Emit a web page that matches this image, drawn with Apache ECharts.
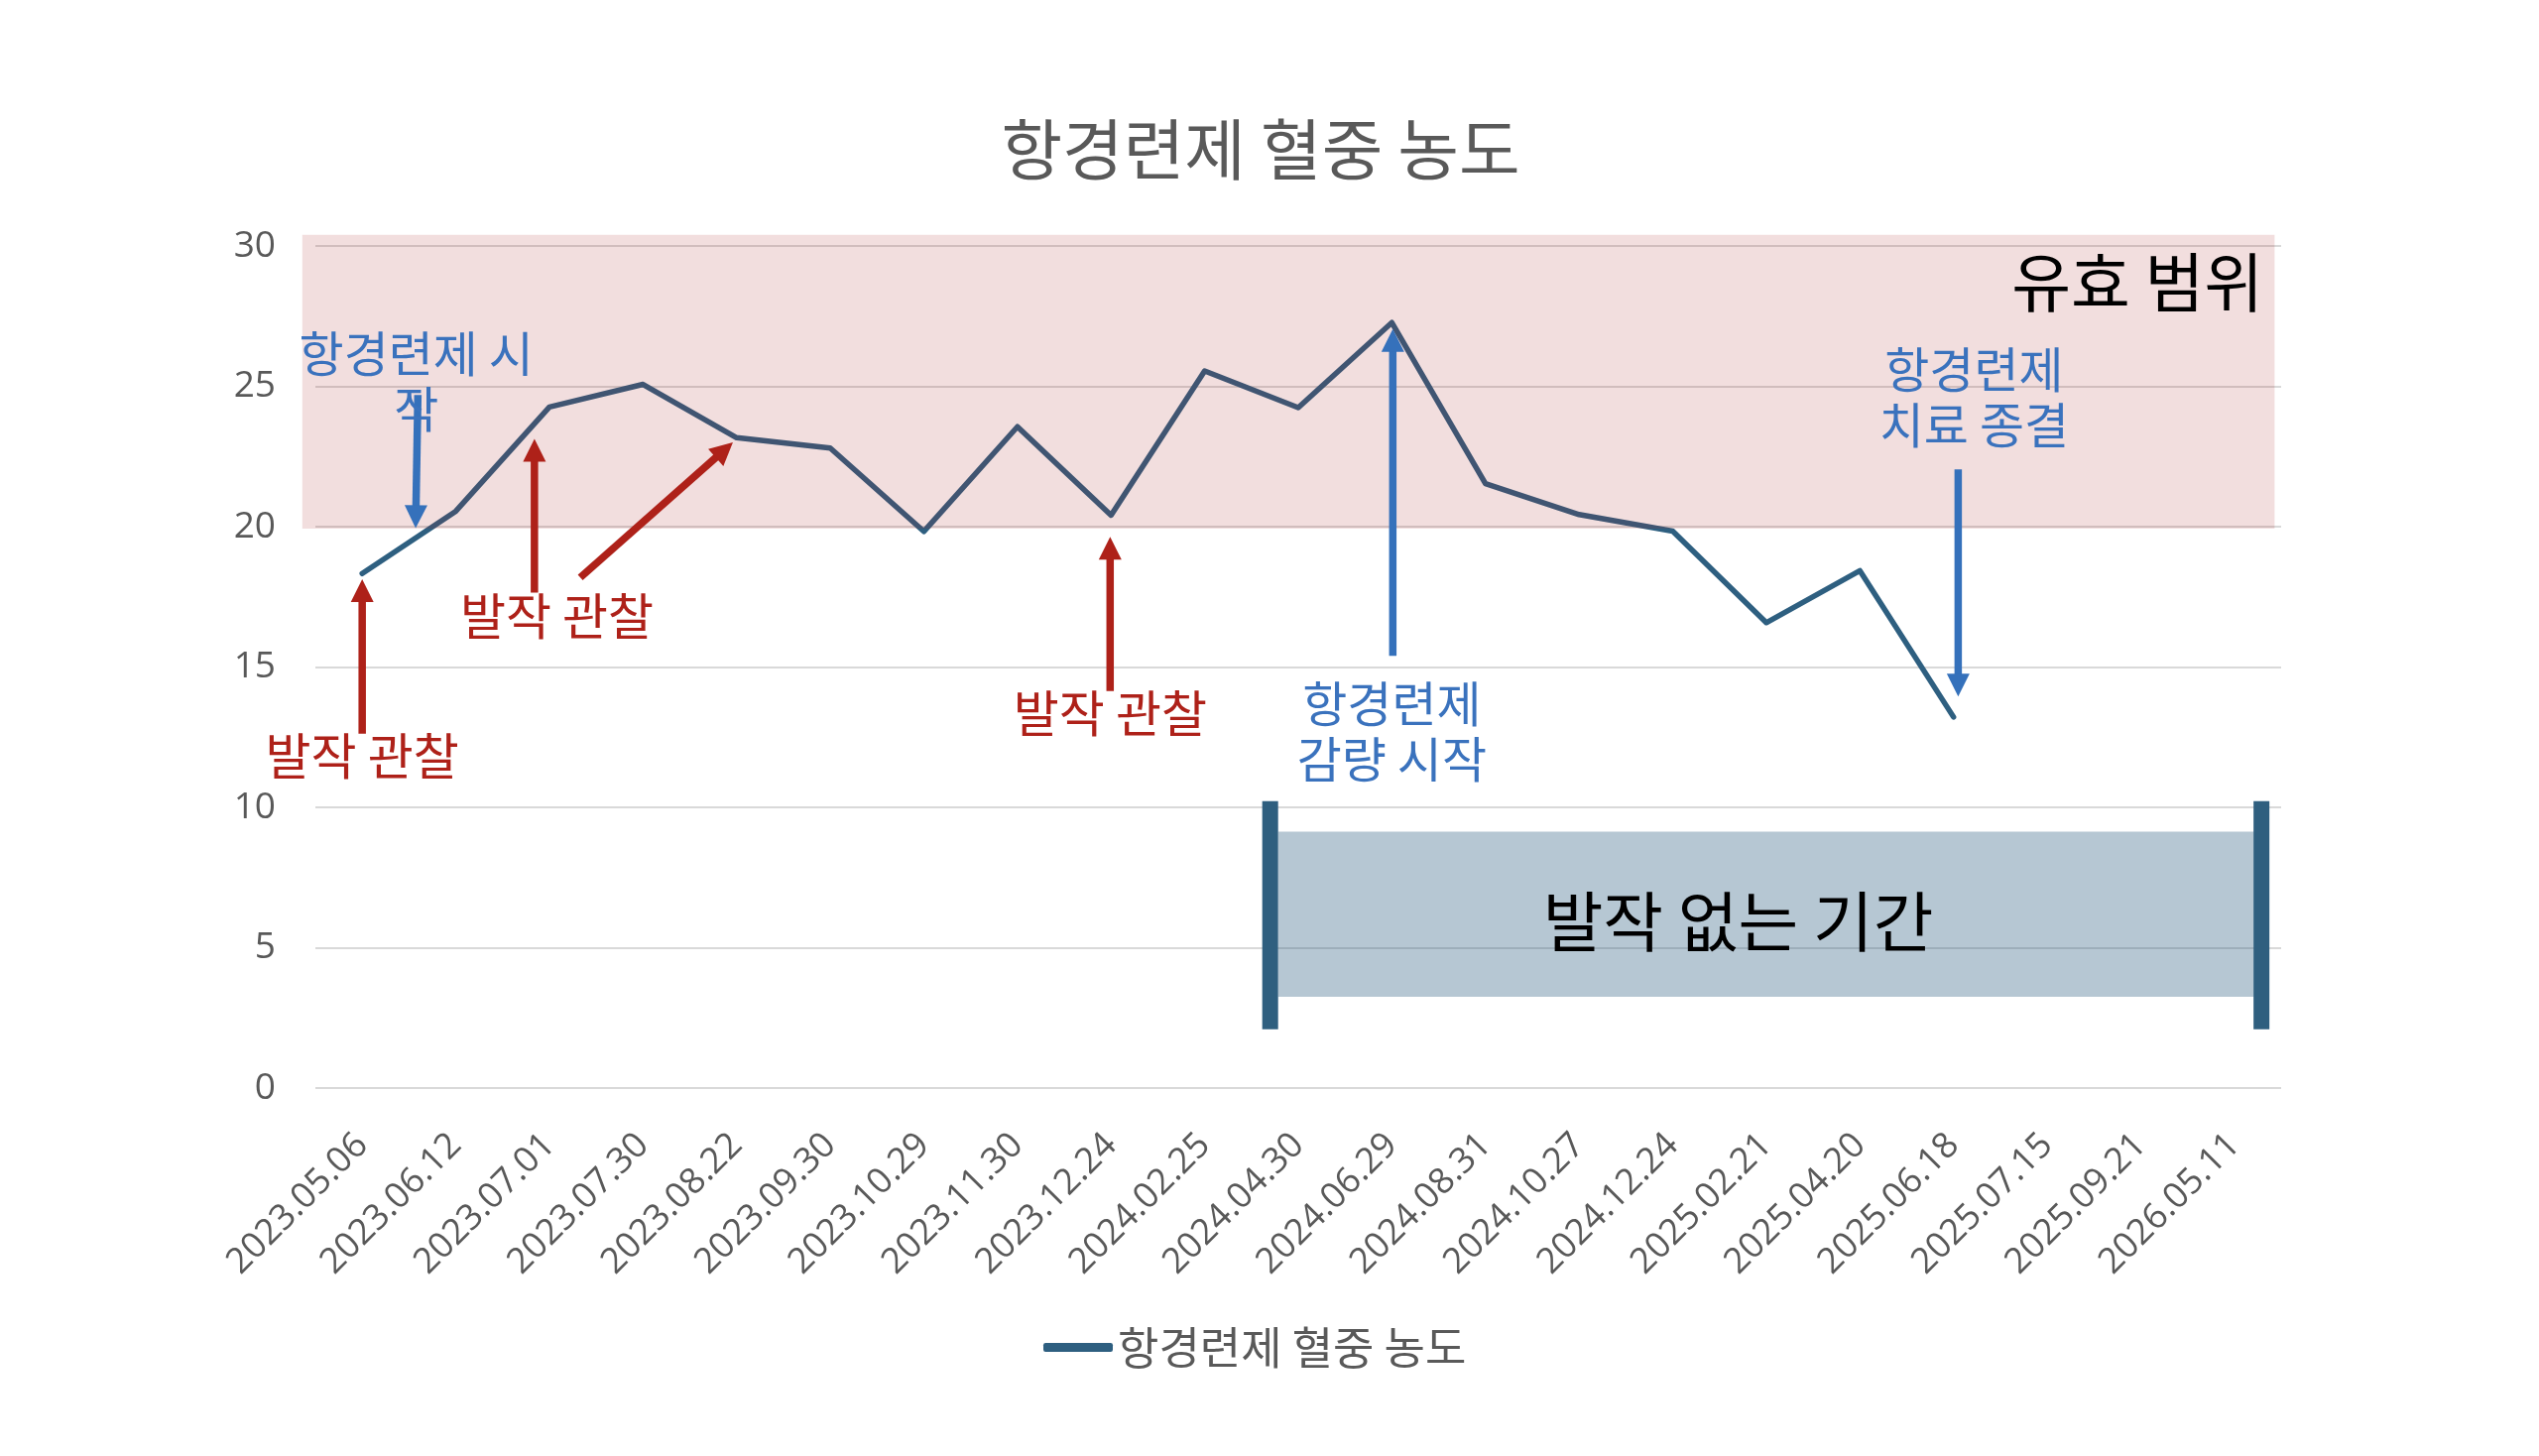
<!DOCTYPE html>
<html><head><meta charset="utf-8">
<script src="https://cdn.jsdelivr.net/npm/echarts@6/dist/echarts.min.js"></script>
<style>html,body{margin:0;padding:0;background:#fff}#c{width:2560px;height:1468px}</style>
</head><body><div id="c"></div>
<script>
// ---- data ----
const categories = ['2023.05.06','2023.06.12','2023.07.01','2023.07.30','2023.08.22','2023.09.30','2023.10.29','2023.11.30','2023.12.24','2024.02.25','2024.04.30','2024.06.29','2024.08.31','2024.10.27','2024.12.24','2025.02.21','2025.04.20','2025.06.18','2025.07.15','2025.09.21','2026.05.11'];
const concentration = [18.33, 20.55, 24.26, 25.07, 23.17, 22.8, 19.83, 23.56, 20.41, 25.55, 24.24, 27.27, 21.53, 20.43, 19.84, 16.58, 18.43, 13.22, null, null, null];
const seriesName = '항경련제 혈중 농도';
const yMin = 0, yMax = 30, yInterval = 5;
// effective range band: [xStart, yLow, xEnd, yHigh] in category-index / value units
const effectiveRange = [[-0.64, 19.93, 20.43, 30.40]];
// seizure-free period: shaded box and end bars
const seizureFreeBox = [[9.785, 3.25, 20.21, 9.13]];
const seizureFreeBars = [[9.70, 2.09, 10.22], [20.29, 2.09, 10.22]];
// arrows: [x1, y1, x2 (head), y2 (head), kind]
const arrows = [
  [0.00, 12.62, 0.00, 18.13, 'red'],
  [1.84, 17.65, 1.84, 23.13, 'red'],
  [2.33, 18.19, 3.96, 23.00, 'red'],
  [7.99, 14.14, 7.99, 19.64, 'red'],
  [0.595, 24.69, 0.571, 19.95, 'blue'],
  [11.01, 15.40, 11.01, 27.04, 'blue'],
  [17.05, 22.04, 17.05, 13.95, 'blue']
];
// notes: [text, x, y, kind]
const notes = [
  ['발작 관찰', 0.00, 11.85, 'red'],
  ['발작 관찰', 2.08, 16.82, 'red'],
  ['발작 관찰', 7.99, 13.37, 'red'],
  ['항경련제 시\n작', 0.578, 25.19, 'blue'],
  ['항경련제\n감량 시작', 11.00, 12.72, 'blue'],
  ['항경련제\n치료 종결', 17.22, 24.61, 'blue'],
  ['유효 범위', 20.31, 28.73, 'bigRight'],
  ['발작 없는 기간', 14.70, 5.94, 'bigCenter']
];

// ---- styles ----
const KR = '"Noto Sans CJK KR", "Noto Sans", sans-serif';
const NUM = '"Open Sans", "Noto Sans CJK KR", sans-serif';
const lineColor = '#2E5F80';
const arrowColor = { red: '#AE2119', blue: '#3571BB' };
const noteStyle = {
  red:       { fill: '#AE2119', fontSize: 50, align: 'center', lineHeight: 56 },
  blue:      { fill: '#3A72BD', fontSize: 49, align: 'center', lineHeight: 56 },
  bigRight:  { fill: '#000000', fontSize: 65, align: 'right', lineHeight: 70 },
  bigCenter: { fill: '#000000', fontSize: 66, align: 'center', lineHeight: 70 }
};

const chart = echarts.init(document.getElementById('c'), null, { renderer: 'canvas' });

function rectFrom(api, x0, y0, x1, y1) {
  const a = api.coord([x0, y1]);
  const b = api.coord([x1, y0]);
  return { x: a[0], y: a[1], width: b[0] - a[0], height: b[1] - a[1] };
}

chart.setOption({
  animation: false,
  backgroundColor: '#ffffff',
  title: {
    text: '항경련제 혈중 농도',
    left: 1266, top: 112, textAlign: 'center',
    textStyle: { fontSize: 67, color: '#595959', fontWeight: 'normal', fontFamily: KR }
  },
  legend: {
    data: [seriesName],
    left: 1047, top: 1331,
    icon: 'roundRect', itemWidth: 70, itemHeight: 9,
    textStyle: { fontSize: 45, color: '#595959', fontFamily: KR }
  },
  grid: { left: 318, right: 260, top: 248, bottom: 371, containLabel: false },
  xAxis: [
    {
      type: 'category', data: categories, boundaryGap: true,
      axisLine: { show: false }, axisTick: { show: false },
      axisLabel: { rotate: 45, interval: 0, fontSize: 36, color: '#595959', margin: 52, fontFamily: NUM }
    },
    { type: 'value', min: -0.5, max: categories.length - 0.5, show: false }
  ],
  yAxis: {
    type: 'value', min: yMin, max: yMax, interval: yInterval,
    axisLine: { show: false }, axisTick: { show: false },
    axisLabel: { fontSize: 37, color: '#595959', margin: 40, fontFamily: NUM },
    splitLine: { lineStyle: { color: '#D9D9D9', width: 2 } }
  },
  series: [
    {
      name: seriesName, type: 'line', data: concentration,
      xAxisIndex: 0, yAxisIndex: 0, symbol: 'none', z: 2,
      itemStyle: { color: lineColor },
      lineStyle: { color: lineColor, width: 5.5, cap: 'round', join: 'round' }
    },
    {
      type: 'custom', xAxisIndex: 1, yAxisIndex: 0, z: 3, clip: false, silent: true,
      data: effectiveRange,
      renderItem: function (params, api) {
        return { type: 'rect', shape: rectFrom(api, api.value(0), api.value(1), api.value(2), api.value(3)),
          style: { fill: 'rgba(170,35,35,0.15)' } };
      }
    },
    {
      type: 'custom', xAxisIndex: 1, yAxisIndex: 0, z: 3, clip: false, silent: true,
      data: seizureFreeBox,
      renderItem: function (params, api) {
        return { type: 'rect', shape: rectFrom(api, api.value(0), api.value(1), api.value(2), api.value(3)),
          style: { fill: 'rgba(46,95,128,0.35)' } };
      }
    },
    {
      type: 'custom', xAxisIndex: 1, yAxisIndex: 0, z: 4, clip: false, silent: true,
      data: seizureFreeBars,
      renderItem: function (params, api) {
        const top = api.coord([api.value(0), api.value(2)]);
        const bot = api.coord([api.value(0), api.value(1)]);
        const w = 16;
        return { type: 'rect', shape: { x: top[0] - w / 2, y: top[1], width: w, height: bot[1] - top[1] },
          style: { fill: '#2F5F7F' } };
      }
    },
    {
      type: 'custom', xAxisIndex: 1, yAxisIndex: 0, z: 5, clip: false, silent: true,
      data: arrows.map(a => [a[0], a[1], a[2], a[3]]),
      renderItem: function (params, api) {
        const kind = arrows[params.dataIndex][4];
        const col = arrowColor[kind];
        const p1 = api.coord([api.value(0), api.value(1)]);
        const p2 = api.coord([api.value(2), api.value(3)]);
        const dx = p2[0] - p1[0], dy = p2[1] - p1[1];
        const len = Math.sqrt(dx * dx + dy * dy);
        const ux = dx / len, uy = dy / len;
        const nx = -uy, ny = ux;
        const L = 23, hw = 11.5;
        const bx = p2[0] - ux * L, by = p2[1] - uy * L;
        return {
          type: 'group',
          children: [
            { type: 'line', shape: { x1: p1[0], y1: p1[1], x2: bx + ux * 3, y2: by + uy * 3 },
              style: { stroke: col, lineWidth: 7.5 } },
            { type: 'polygon', shape: { points: [[p2[0], p2[1]], [bx + nx * hw, by + ny * hw], [bx - nx * hw, by - ny * hw]] },
              style: { fill: col } }
          ]
        };
      }
    },
    {
      type: 'custom', xAxisIndex: 1, yAxisIndex: 0, z: 6, clip: false, silent: true,
      data: notes.map(n => [n[1], n[2]]),
      renderItem: function (params, api) {
        const n = notes[params.dataIndex];
        const st = noteStyle[n[3]];
        const p = api.coord([api.value(0), api.value(1)]);
        return {
          type: 'text', x: p[0], y: p[1],
          style: { text: n[0], fill: st.fill, fontSize: st.fontSize, fontFamily: KR,
            align: st.align, verticalAlign: 'middle', lineHeight: st.lineHeight }
        };
      }
    }
  ]
});
</script>
</body></html>
